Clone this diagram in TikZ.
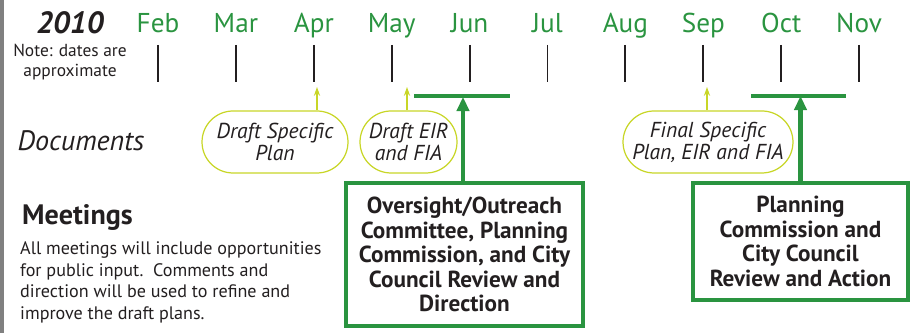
\documentclass[tikz,border=0pt]{standalone}
\usepackage{fontspec}
\setmainfont{PT Sans}
\usetikzlibrary{arrows.meta, positioning, shapes.misc}
\definecolor{mgreen}{RGB}{42,148,64}
\definecolor{lime}{RGB}{200,214,40}
\definecolor{ink}{RGB}{35,31,32}
\tikzstyle{month} = [text=mgreen, font=\fontsize{15.5}{18}\selectfont, anchor=base, inner sep=0pt]
\tikzstyle{tick} = [ink, line width=1.1pt]
\tikzstyle{doc} = [rounded rectangle, draw=lime, line width=0.7pt, minimum height=1.24cm, inner sep=0pt, align=center, text=ink, font=\fontsize{12.3}{12.5}\selectfont\itshape]
\tikzstyle{meet} = [rectangle, draw=mgreen, line width=2.3pt, inner sep=0pt, align=center, text=ink, font=\fontsize{13.2}{13.9}\selectfont\bfseries]
\tikzstyle{docarrow} = [lime, line width=0.8pt, -{Stealth[length=5pt, width=3.5pt]}]
\tikzstyle{bar} = [mgreen, line width=2.3pt]
\tikzstyle{arrow} = [mgreen, line width=2.3pt, -{Stealth[length=8pt, width=7pt, inset=0pt]}]

\begin{document}
\begin{tikzpicture}[x=0.02cm, y=-0.02cm]
	\useasboundingbox (0,0) rectangle (914,333);
	\fill[black!50] (0,0) rectangle (4,333);
	
	% time line
	\node (year) [text=ink, font=\fontsize{17.5}{18}\selectfont\bfseries\itshape] at (70,23) {2010};
	\node (note) [text=ink, align=center, font=\fontsize{9.9}{11.3}\selectfont] at (70,62) {Note: dates are\\approximate};
	\foreach \m [count=\i from 0] in {Feb,Mar,Apr,May,Jun,Jul,Aug,Sep,Oct,Nov} {
		\node (\m) [month] at ({158+77.9*\i},33) {\m};
		\draw [tick] ({158+77.9*\i},45) -- ({158+77.9*\i},82);
	}
	
	% documents
	\node (docs) [text=ink, font=\fontsize{16}{18}\selectfont\itshape] at (81,141) {Documents};
	\node (dsp) [doc, minimum width=2.92cm] at (275,142) {Draft Specific\\Plan};
	\node (deir) [doc, minimum width=1.94cm] at (408.5,142) {Draft EIR\\and FIA};
	\node (fsp) [doc, minimum width=3.4cm] at (708,142) {Final Specific\\Plan, EIR and FIA};
	\coordinate (aprtip) at (317,87);
	\coordinate (maytip) at (407,87);
	\coordinate (septip) at (707,87);
	\draw [docarrow] (dsp.north -| aprtip) -- (aprtip);
	\draw [docarrow] (deir.north -| maytip) -- (maytip);
	\draw [docarrow] (fsp.north -| septip) -- (septip);
	
	% meetings
	\node (meet) [anchor=west, text=ink, font=\fontsize{16}{18}\selectfont\bfseries] at (16,217) {Meetings};
	\node (body) [anchor=north west, align=left, text=ink, font=\fontsize{10.3}{12.5}\selectfont] at (14,235) {All meetings will include opportunities\\for public input.\ \ Comments and\\direction will be used to refine and\\improve the draft plans.};
	\node (ocbox) [meet, minimum width=4.74cm, minimum height=2.86cm] at (464.5,254.5) {Oversight/Outreach\\Committee, Planning\\Commission, and City\\Council Review and\\Direction};
	\node (pcbox) [meet, minimum width=4.3cm, minimum height=2.34cm] at (800.5,241.5) {Planning\\Commission and\\City Council\\Review and Action};
	\coordinate (junL) at (414,96);
	\coordinate (junR) at (510,96);
	\coordinate (octL) at (751,96);
	\coordinate (octR) at (846,96);
	\draw [bar] (junL) -- (junR);
	\draw [bar] (octL) -- (octR);
	\draw [arrow] (ocbox.north -| 463,0) -- (463,97);
	\draw [arrow] (pcbox.north) -- (pcbox.north |- octL);
\end{tikzpicture}
\end{document}
